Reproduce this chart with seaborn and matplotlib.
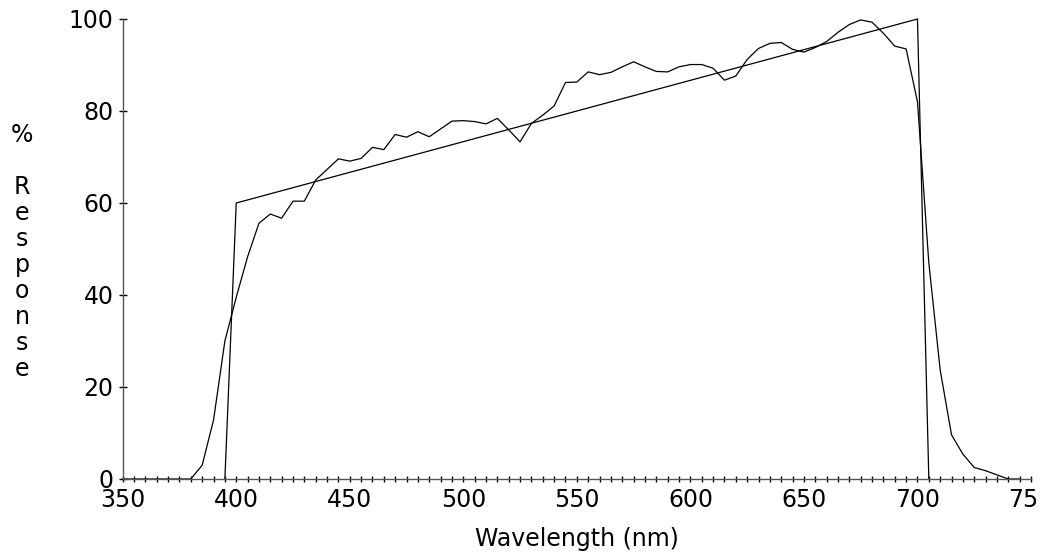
import matplotlib
matplotlib.use("Agg")
import matplotlib.pyplot as plt
import seaborn as sns
import numpy as np
import pandas as pd
from matplotlib.transforms import Bbox, TransformedBbox, IdentityTransform

# ---- data ----
wavelength_measured = list(range(350, 750, 5))
response_measured = [
    0, 0, 0, 0, 0, 0, 0, 3.0, 12.8, 30.0,          # 350-395
    39.5, 48.3, 55.6, 57.6, 56.7, 60.4, 60.4, 65.0, 67.3, 69.6,   # 400-445
    69.1, 69.7, 72.1, 71.6, 74.9, 74.3, 75.5, 74.4, 76.1, 77.8,   # 450-495
    77.9, 77.7, 77.2, 78.4, 75.9, 73.3, 77.3, 79.1, 81.1, 86.2,   # 500-545
    86.3, 88.5, 87.9, 88.4, 89.6, 90.7, 89.6, 88.6, 88.5, 89.6,   # 550-595
    90.1, 90.1, 89.3, 86.7, 87.6, 91.2, 93.6, 94.7, 94.9, 93.4,   # 600-645
    92.8, 93.8, 95.1, 97.1, 98.8, 99.8, 99.3, 96.9, 94.1, 93.5,   # 650-695
    82.0, 47.0, 23.7, 9.6, 5.4, 2.5, 1.8, 0.9, 0, 0,             # 700-745
]
wavelength_ideal = [395, 400, 700, 705]
response_ideal = [0, 60, 100, 0]

x_ticks = list(range(350, 751, 50))
y_ticks = list(range(0, 101, 20))
x_label = "Wavelength (nm)"
y_label = "%\n\nR\ne\ns\np\no\nn\ns\ne"

# ---- style ----
sns.set_style("ticks")
plt.rcParams["font.family"] = ["DejaVu Sans"]
plt.rcParams["text.color"] = "black"
plt.rcParams["axes.labelcolor"] = "black"

fig = plt.figure(figsize=(10.47, 5.57), dpi=100)
ax = fig.add_axes([0.11719, 0.14004, 0.86753, 0.82585])

df_m = pd.DataFrame({"x": wavelength_measured, "y": response_measured})
df_i = pd.DataFrame({"x": wavelength_ideal, "y": response_ideal})
sns.lineplot(data=df_i, x="x", y="y", ax=ax, color="black", linewidth=0.9,
             estimator=None, sort=False, clip_on=False)
sns.lineplot(data=df_m, x="x", y="y", ax=ax, color="black", linewidth=0.9,
             estimator=None, sort=False, clip_on=False)

ax.set_xlim(350, 750)
ax.set_ylim(0, 100)
ax.set_xticks(x_ticks)
ax.set_xticks(list(range(350, 751, 5)), minor=True)
ax.set_yticks(y_ticks)
ax.set_xticklabels([str(t) for t in x_ticks], fontsize=17)
ax.set_yticklabels([str(t) for t in y_ticks], fontsize=17)

for s in ["top", "right"]:
    ax.spines[s].set_visible(False)
for s in ["left", "bottom"]:
    ax.spines[s].set_color("#555555")
    ax.spines[s].set_linewidth(1.0)

ax.tick_params(axis="x", which="both", direction="inout", length=5, width=1,
               color="black", pad=4, labelcolor="black")
ax.tick_params(axis="y", which="major", direction="inout", length=6, width=1,
               color="black", pad=3.5, labelcolor="black")

ax.set_xlabel(x_label, fontsize=17, labelpad=11, color="black")
ax.set_ylabel("")
fig.text(22 / 1047, 1 - 252 / 557, y_label, fontsize=17, ha="center",
         va="center", multialignment="center", linespacing=1.1, color="black")

# clip the last tick label at the canvas edge like the reference
fig.canvas.draw()
clip = TransformedBbox(Bbox([[0, 0], [1038, 557]]), IdentityTransform())
for lbl in ax.get_xticklabels():
    lbl.set_clip_box(clip)
    lbl.set_clip_on(True)

fig.savefig("out.png", dpi=100)
